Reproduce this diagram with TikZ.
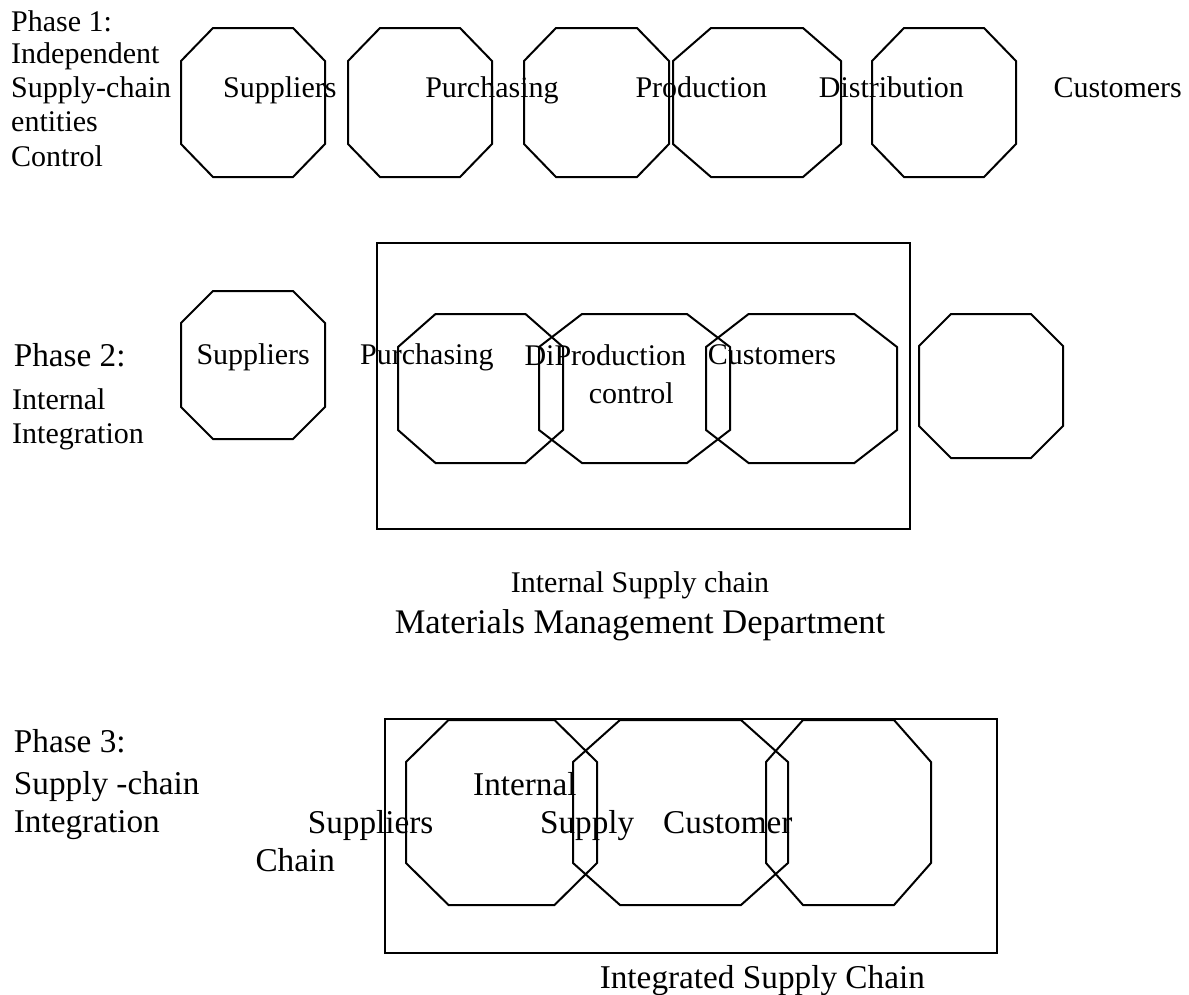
\documentclass[tikz,border=0pt]{standalone}
\usepackage{fontspec}
\setmainfont{Liberation Serif}
\newcommand{\octo}[6]{% x1 y1 x2 y2 cx cy
  \draw[shapeline] ({#1+#5},#2) -- ({#3-#5},#2) -- (#3,{#2+#6}) -- (#3,{#4-#6})
    -- ({#3-#5},#4) -- ({#1+#5},#4) -- (#1,{#4-#6}) -- (#1,{#2+#6}) -- cycle;}
\tikzset{
  shapeline/.style={line width=0.8pt, line join=miter},
  txt/.style={inner sep=0pt, anchor=base west, font=\fontsize{12}{14}\selectfont},
  txtb/.style={inner sep=0pt, anchor=base west, font=\fontsize{13.3}{15}\selectfont},
  txtc/.style={inner sep=0pt, anchor=base, font=\fontsize{12}{14}\selectfont},
  txtd/.style={inner sep=0pt, anchor=base, font=\fontsize{13.8}{16}\selectfont},
}
\begin{document}
\begin{tikzpicture}[x=0.4pt,y=-0.4pt]
\useasboundingbox (0,0) rectangle (1189,995);
% ---------- Phase 1 ----------
\octo{181}{28}{325}{177}{32}{33}
\octo{348}{28}{492}{177}{32}{33}
\octo{524}{28}{669}{177}{32}{33}
\octo{673}{28}{841}{177}{38}{33}
\octo{872}{28}{1016}{177}{32}{33}
\node[txt] (p1a) at (10.7,31.7) {Phase 1:};
\node[txt] (p1b) at (10.7,63.5) {Independent};
\node[txt] (p1c) at (10.7,97) {Supply-chain};
\node[txt] (p1d) at (10.7,131.5) {entities};
\node[txt] (p1e) at (10.7,166) {Control};
\node[txt] (s1) at (222.7,97) {Suppliers};
\node[txt] (pu1) at (424.8,97) {Purchasing};
\node[txt] (pr1) at (635,97) {Production};
\node[txt] (di1) at (818.4,97) {Distribution};
\node[txt] (cu1) at (1053,97) {Customers};
% ---------- Phase 2 ----------
\draw[shapeline] (377,243) rectangle (910,529);
\octo{181}{291}{325}{439}{32}{32}
\octo{398}{314}{563}{463}{37.5}{33}
\octo{539}{314}{730}{463}{43}{33}
\octo{706}{314}{897}{463}{42.6}{33}
\octo{919}{314}{1063}{458}{32}{32}
\node[txtb] (p2a) at (13.3,366.7) {Phase 2:};
\node[txt] (p2b) at (11.7,409) {Internal};
\node[txt] (p2c) at (11.7,443.3) {Integration};
\node[txt] (s2) at (196,364.5) {Suppliers};
\node[txt] (pu2) at (359.7,364.5) {Purchasing};
\node[txt] (di2) at (524,365) {Di};
\node[txt] (pr2) at (554,365) {Production};
\node[txt] (co2) at (588.3,403.3) {control};
\node[txt] (cu2) at (707.3,364.5) {Customers};
\node[txtc] (isc) at (640,592.7) {Internal Supply chain};
\node[txtd] (mmd) at (640,633.3) {Materials Management Department};
% ---------- Phase 3 ----------
\draw[shapeline] (385,719) rectangle (997,953);
\octo{406}{720}{597}{905}{42.5}{42}
\octo{573}{720}{788}{905}{47}{42}
\octo{766}{720}{931}{905}{37}{42}
\node[txtb] (p3a) at (13.4,752.3) {Phase 3:};
\node[txtb] (p3b) at (13.4,794.3) {Supply -chain};
\node[txtb] (p3c) at (13.4,832.7) {Integration};
\node[txtb] (in3) at (472.7,795) {Internal};
\node[txtb] (s3) at (307.3,833.3) {Suppliers};
\node[txtb] (su3) at (539.6,833.3) {Supply};
\node[txtb] (cu3) at (662.7,833.3) {Customer};
\node[txtb] (ch3) at (255,871.7) {Chain};
\node[txtb] (isc3) at (599.3,988.3) {Integrated Supply Chain};
\end{tikzpicture}
\end{document}
